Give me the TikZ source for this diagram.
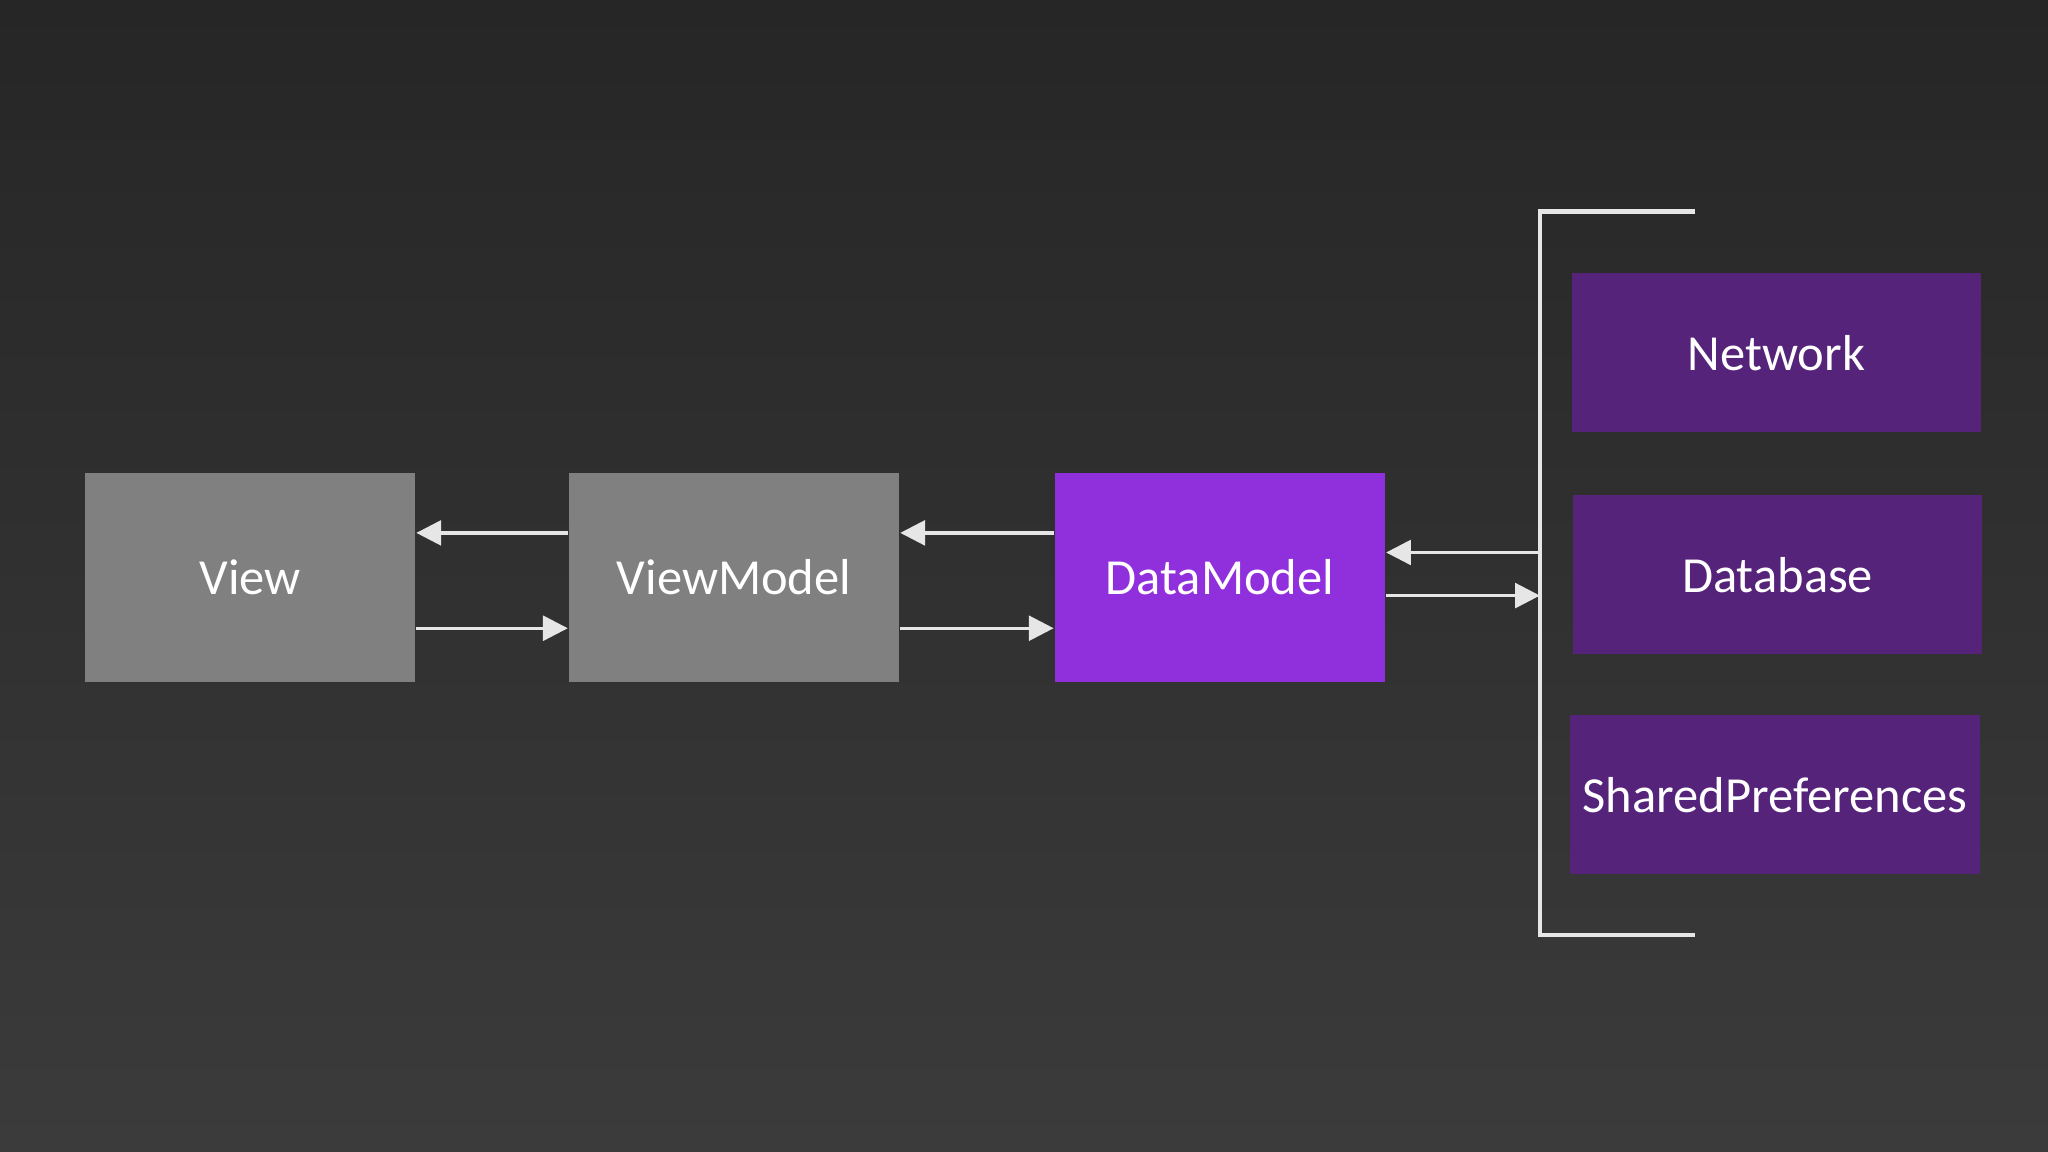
\documentclass[tikz,border=0pt]{standalone}
\usepackage{fontspec}
\setmainfont{Carlito}
\usetikzlibrary{arrows.meta}
\definecolor{bgtop}{HTML}{262626}
\definecolor{bgbot}{HTML}{3C3B3C}
\definecolor{grayb}{HTML}{808080}
\definecolor{dmpurple}{HTML}{902FDC}
\definecolor{darkp}{HTML}{55237A}
\definecolor{linec}{HTML}{E6E6E6}
\tikzset{
 box/.style={draw=none,minimum width=2.53cm,minimum height=1.6cm,text=white,font=\fontsize{11pt}{13pt}\selectfont,inner sep=0pt},
 src/.style={box,fill=darkp,minimum width=3.13cm,minimum height=1.22cm},
 conn/.style={draw=linec,line width=0.7pt,-{Triangle[length=0.19cm,width=0.19cm,fill=linec]}}
}
\begin{document}
\begin{tikzpicture}[x=0.01cm,y=-0.01cm]
\shade[top color=bgtop,bottom color=bgbot] (0,0) rectangle (1568,882);
\useasboundingbox (0,0) rectangle (1568,882);
\node[box,fill=grayb] (v) at (191.5,442) {View};
\node[box,fill=grayb] (vm) at (562,442) {ViewModel};
\node[box,fill=dmpurple] (dm) at (934,442) {DataModel};
\node[src] (net) at (1360,270) {Network};
\node[src] (db) at (1361,440) {Database};
\node[src] (sp) at (1359,608.5) {SharedPreferences};
\coordinate (bt) at (1179,162);
\coordinate (bb) at (1179,716);
\coordinate (bte) at (1298,162);
\coordinate (bbe) at (1298,716);
\draw[linec,line width=1pt] (bte) -- (bt) -- (bb) -- (bbe);
\draw[conn] (vm.west |- 0,408) -- (v.east |- 0,408);
\draw[conn] (v.east |- 0,481) -- (vm.west |- 0,481);
\draw[conn] (dm.west |- 0,408) -- (vm.east |- 0,408);
\draw[conn] (vm.east |- 0,481) -- (dm.west |- 0,481);
\draw[conn] (1179,423) -- (dm.east |- 0,423);
\draw[conn] (dm.east |- 0,456) -- (1179,456);
\end{tikzpicture}
\end{document}
